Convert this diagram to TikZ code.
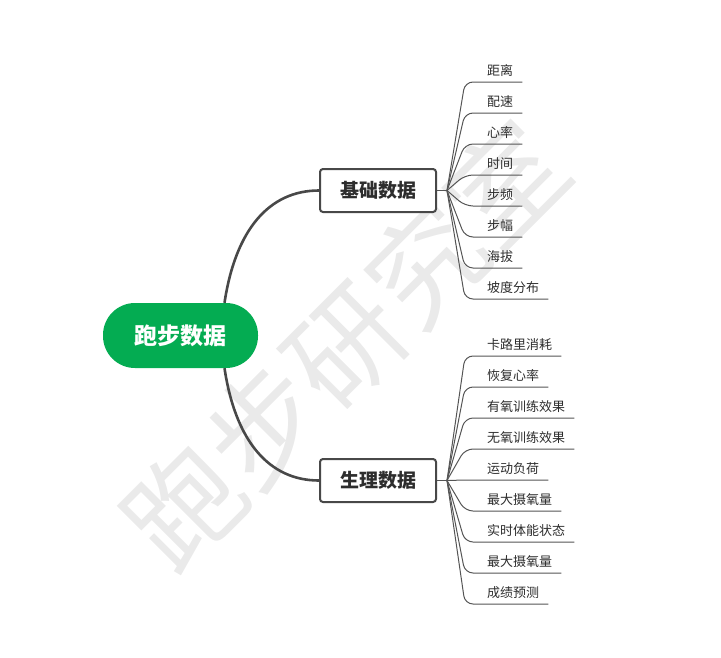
\documentclass[tikz,border=0pt]{standalone}
\usepackage{fontspec}
\newfontfamily\cjk{Noto Sans CJK SC}
\definecolor{rungreen}{RGB}{4,172,82}
\definecolor{boxgray}{RGB}{72,72,72}
\definecolor{twiggray}{RGB}{85,85,85}
\definecolor{txtgray}{RGB}{45,45,45}
\definecolor{markgray}{RGB}{234,234,234}

\begin{document}
\begin{tikzpicture}[
    x=1pt, y=-1pt,
    rootbox/.style={rectangle, rounded corners=32pt, fill=rungreen, text=white, minimum width=155pt, minimum height=65pt, font=\cjk\bfseries\fontsize{23}{26}\selectfont},
    branch/.style={rectangle, draw=boxgray, line width=2pt, rounded corners=3pt, fill=white, text=txtgray, minimum width=116pt, minimum height=43pt, font=\cjk\bfseries\fontsize{19}{22}\selectfont},
    leaf/.style={anchor=south west, inner xsep=0pt, inner ysep=4pt, text height=11pt, text depth=2pt, text=txtgray, font=\cjk\fontsize{13}{15}\selectfont},
    trunk/.style={draw=boxgray, line width=2.6pt},
    twig/.style={draw=twiggray, line width=1pt, rounded corners=8pt}
]
\useasboundingbox (0,0) rectangle (721,657);

% Wasserzeichen
\node[rotate=45, text=markgray, font=\cjk\fontsize{114}{116}\selectfont] (mark) at (345,345) {跑步研究室};

% Zentrum
\node[rootbox] (root) at (180.5,335.5) {跑步数据};
\coordinate (rootN) at ([xshift=44pt]root.north);
\coordinate (rootS) at ([xshift=44pt]root.south);

% Aeste
\node[branch] (base) at (378,190.5) {基础数据};
\node[branch] (phys) at (378,480.5) {生理数据};

\draw[trunk] (rootN) .. controls +(11,-73) and +(-50,0) .. (base.west);
\draw[trunk] (rootS) .. controls +(11,73) and +(-50,0) .. (phys.west);

\coordinate (fan1) at (447,190.5);
\coordinate (fan2) at (447,480.5);
\draw[twiggray, line width=1pt] (base.east) -- (fan1);
\draw[twiggray, line width=1pt] (phys.east) -- (fan2);

% Basisdaten
\node[leaf] (b1) at (487,82) {距离};
\node[leaf] (b2) at (487,113) {配速};
\node[leaf] (b3) at (487,144) {心率};
\node[leaf] (b4) at (487,175) {时间};
\node[leaf] (b5) at (487,206) {步频};
\node[leaf] (b6) at (487,237) {步幅};
\node[leaf] (b7) at (487,268) {海拔};
\node[leaf] (b8) at (487,299) {坡度分布};

\draw[twig] (fan1) -- ([xshift=-22pt]b1.south west) -- ([xshift=9pt]b1.south east);
\draw[twig] (fan1) -- ([xshift=-22pt]b2.south west) -- ([xshift=9pt]b2.south east);
\draw[twig] (fan1) -- ([xshift=-22pt]b3.south west) -- ([xshift=9pt]b3.south east);
\draw[twig] (fan1) -- ([xshift=-22pt]b4.south west) -- ([xshift=9pt]b4.south east);
\draw[twig] (fan1) -- ([xshift=-22pt]b5.south west) -- ([xshift=9pt]b5.south east);
\draw[twig] (fan1) -- ([xshift=-22pt]b6.south west) -- ([xshift=9pt]b6.south east);
\draw[twig] (fan1) -- ([xshift=-22pt]b7.south west) -- ([xshift=9pt]b7.south east);
\draw[twig] (fan1) -- ([xshift=-22pt]b8.south west) -- ([xshift=9pt]b8.south east);

% Physiologie
\node[leaf] (p1) at (487,356) {卡路里消耗};
\node[leaf] (p2) at (487,387) {恢复心率};
\node[leaf] (p3) at (487,418) {有氧训练效果};
\node[leaf] (p4) at (487,449) {无氧训练效果};
\node[leaf] (p5) at (487,480) {运动负荷};
\node[leaf] (p6) at (487,511) {最大摄氧量};
\node[leaf] (p7) at (487,542) {实时体能状态};
\node[leaf] (p8) at (487,573) {最大摄氧量};
\node[leaf] (p9) at (487,604) {成绩预测};

\draw[twig] (fan2) -- ([xshift=-22pt]p1.south west) -- ([xshift=9pt]p1.south east);
\draw[twig] (fan2) -- ([xshift=-22pt]p2.south west) -- ([xshift=9pt]p2.south east);
\draw[twig] (fan2) -- ([xshift=-22pt]p3.south west) -- ([xshift=9pt]p3.south east);
\draw[twig] (fan2) -- ([xshift=-22pt]p4.south west) -- ([xshift=9pt]p4.south east);
\draw[twig] (fan2) -- ([xshift=-22pt]p5.south west) -- ([xshift=9pt]p5.south east);
\draw[twig] (fan2) -- ([xshift=-22pt]p6.south west) -- ([xshift=9pt]p6.south east);
\draw[twig] (fan2) -- ([xshift=-22pt]p7.south west) -- ([xshift=9pt]p7.south east);
\draw[twig] (fan2) -- ([xshift=-22pt]p8.south west) -- ([xshift=9pt]p8.south east);
\draw[twig] (fan2) -- ([xshift=-22pt]p9.south west) -- ([xshift=9pt]p9.south east);

\end{tikzpicture}
\end{document}
